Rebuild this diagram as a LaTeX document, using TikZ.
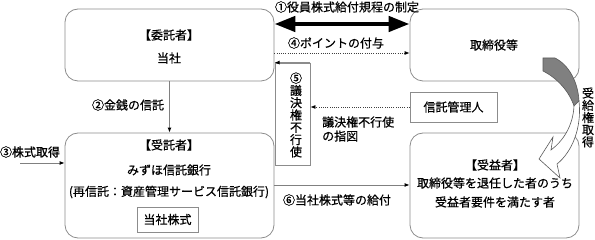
\documentclass[tikz,border=0pt]{standalone}
\usepackage{fontspec}
\setmainfont{Noto Sans CJK JP}[FakeBold=0.6]
\usetikzlibrary{arrows.meta}
\definecolor{boxgray}{HTML}{8C8C8C}
\definecolor{linegray}{HTML}{808080}
\definecolor{dotgray}{HTML}{404040}
\definecolor{backgray}{HTML}{808080}
\definecolor{arrowline}{HTML}{595959}
\begin{document}
\begin{tikzpicture}[x=1pt,y=-1pt,
  font=\fontsize{12}{14}\selectfont,
  rbox/.style={draw=boxgray, line width=0.8pt, rounded corners=13pt, inner sep=0pt},
  sbox/.style={draw=boxgray, line width=0.8pt, inner sep=0pt},
  txt/.style={inner sep=0pt, anchor=center},
  vtxt/.style={inner sep=0pt, anchor=center, align=center, font=\fontsize{12}{12.3}\selectfont},
  conn/.style={draw=linegray, line width=0.9pt, -{Latex[length=5pt,width=4pt,color=black]}},
  dotconn/.style={draw=dotgray, line width=0.8pt, dash pattern=on 0.8pt off 1.4pt, -{Latex[length=5pt,width=4pt,color=black]}},
  bigarrow/.style={draw=black, line width=4.5pt, {Triangle[length=21pt,width=15pt]}-{Triangle[length=21pt,width=15pt]}},
]
\useasboundingbox (0,0) rectangle (595,240);

% main boxes
\node[rbox, minimum width=209pt, minimum height=72pt] (itaku) at (169.5,45) {};
\node[rbox, minimum width=169pt, minimum height=72pt] (tori) at (494.5,45) {};
\node[rbox, minimum width=209pt, minimum height=105pt] (jutaku) at (169.5,185.5) {};
\node[rbox, minimum width=169pt, minimum height=105pt] (jueki) at (494.5,185.5) {};

% texts in boxes
\node[txt] (t1a) at (169,35) {【委託者】};
\node[txt] (t1b) at (169,58) {当社};
\node[txt] (t2a) at (494,45) {取締役等};
\node[txt] (t3a) at (169,145) {【受託者】};
\node[txt] (t3b) at (169,170) {みずほ信託銀行};
\node[txt] (t3c) at (169,192) {(再信託：資産管理サービス信託銀行)};
\node[sbox, minimum width=61pt, minimum height=25pt] (kabu) at (167.5,219.5) {当社株式};
\node[txt] (t4a) at (495,165) {【受益者】};
\node[txt] (t4b) at (495,183) {取締役等を退任した者のうち};
\node[txt] (t4c) at (495,202) {受益者要件を満たす者};

% trust administrator
\node[sbox, minimum width=87pt, minimum height=30pt] (kanri) at (453.5,107) {信託管理人};

% (5) box
\node[sbox, minimum width=35pt, minimum height=102pt] (g5) at (292.5,114) {};
\node[vtxt] (t5) at (296,115) {⑤\\議\\決\\権\\不\\行\\使};
\draw[conn, draw=boxgray, line width=0.8pt] (g5.north east) -- (g5.north west);

% helper coordinates
\coordinate (y1) at (0,24);
\coordinate (y4) at (0,53);
\coordinate (y6) at (0,185);
\coordinate (s3) at (20,163);

% (1) big double arrow
\draw[bigarrow] (itaku.east |- y1) -- (tori.west |- y1);
\node[txt] (l1) at (347,7) {①役員株式給付規程の制定};

% (4) dotted
\draw[dotconn] (itaku.east |- y4) -- (tori.west |- y4);
\node[txt] (l4) at (336,43) {④ポイントの付与};

% (2)
\draw[conn] (itaku.south) -- (jutaku.north);
\node[txt] (l2) at (128,105) {②金銭の信託};

% (3)
\draw[conn] (s3) -- (s3 -| jutaku.west);
\node[txt] (l3) at (30,152) {③株式取得};

% (6)
\draw[conn] (jutaku.east |- y6) -- (jueki.west |- y6);
\node[txt] (l6) at (337,200) {⑥当社株式等の給付};

% voting instruction
\draw[dotconn] (kanri.west) -- (kanri.west -| g5.east);
\node[inner sep=0pt, anchor=west, align=left] (l7) at (322,129) {議決権不行使\\の指図};

% vertical label
\node[vtxt, font=\fontsize{12}{12.2}\selectfont] (l8) at (588,117.5) {受\\給\\権\\取\\得};

% curved arrow (back part)
\draw[draw=arrowline, line width=0.6pt, fill=backgray]
  (543,58) -- (555,58) .. controls (569,65) and (578,82) .. (579,101)
  -- (574,106) .. controls (569,91) and (557,78) .. (543,71) -- cycle;
% curved arrow (front part)
\draw[draw=arrowline, line width=0.6pt, fill=white]
  (579,101) .. controls (582,128) and (572,152) .. (557,164)
  -- (560,178) -- (539,159) -- (553,137) -- (551,150)
  .. controls (563,141) and (573,126) .. (574,106) -- cycle;
\end{tikzpicture}
\end{document}
